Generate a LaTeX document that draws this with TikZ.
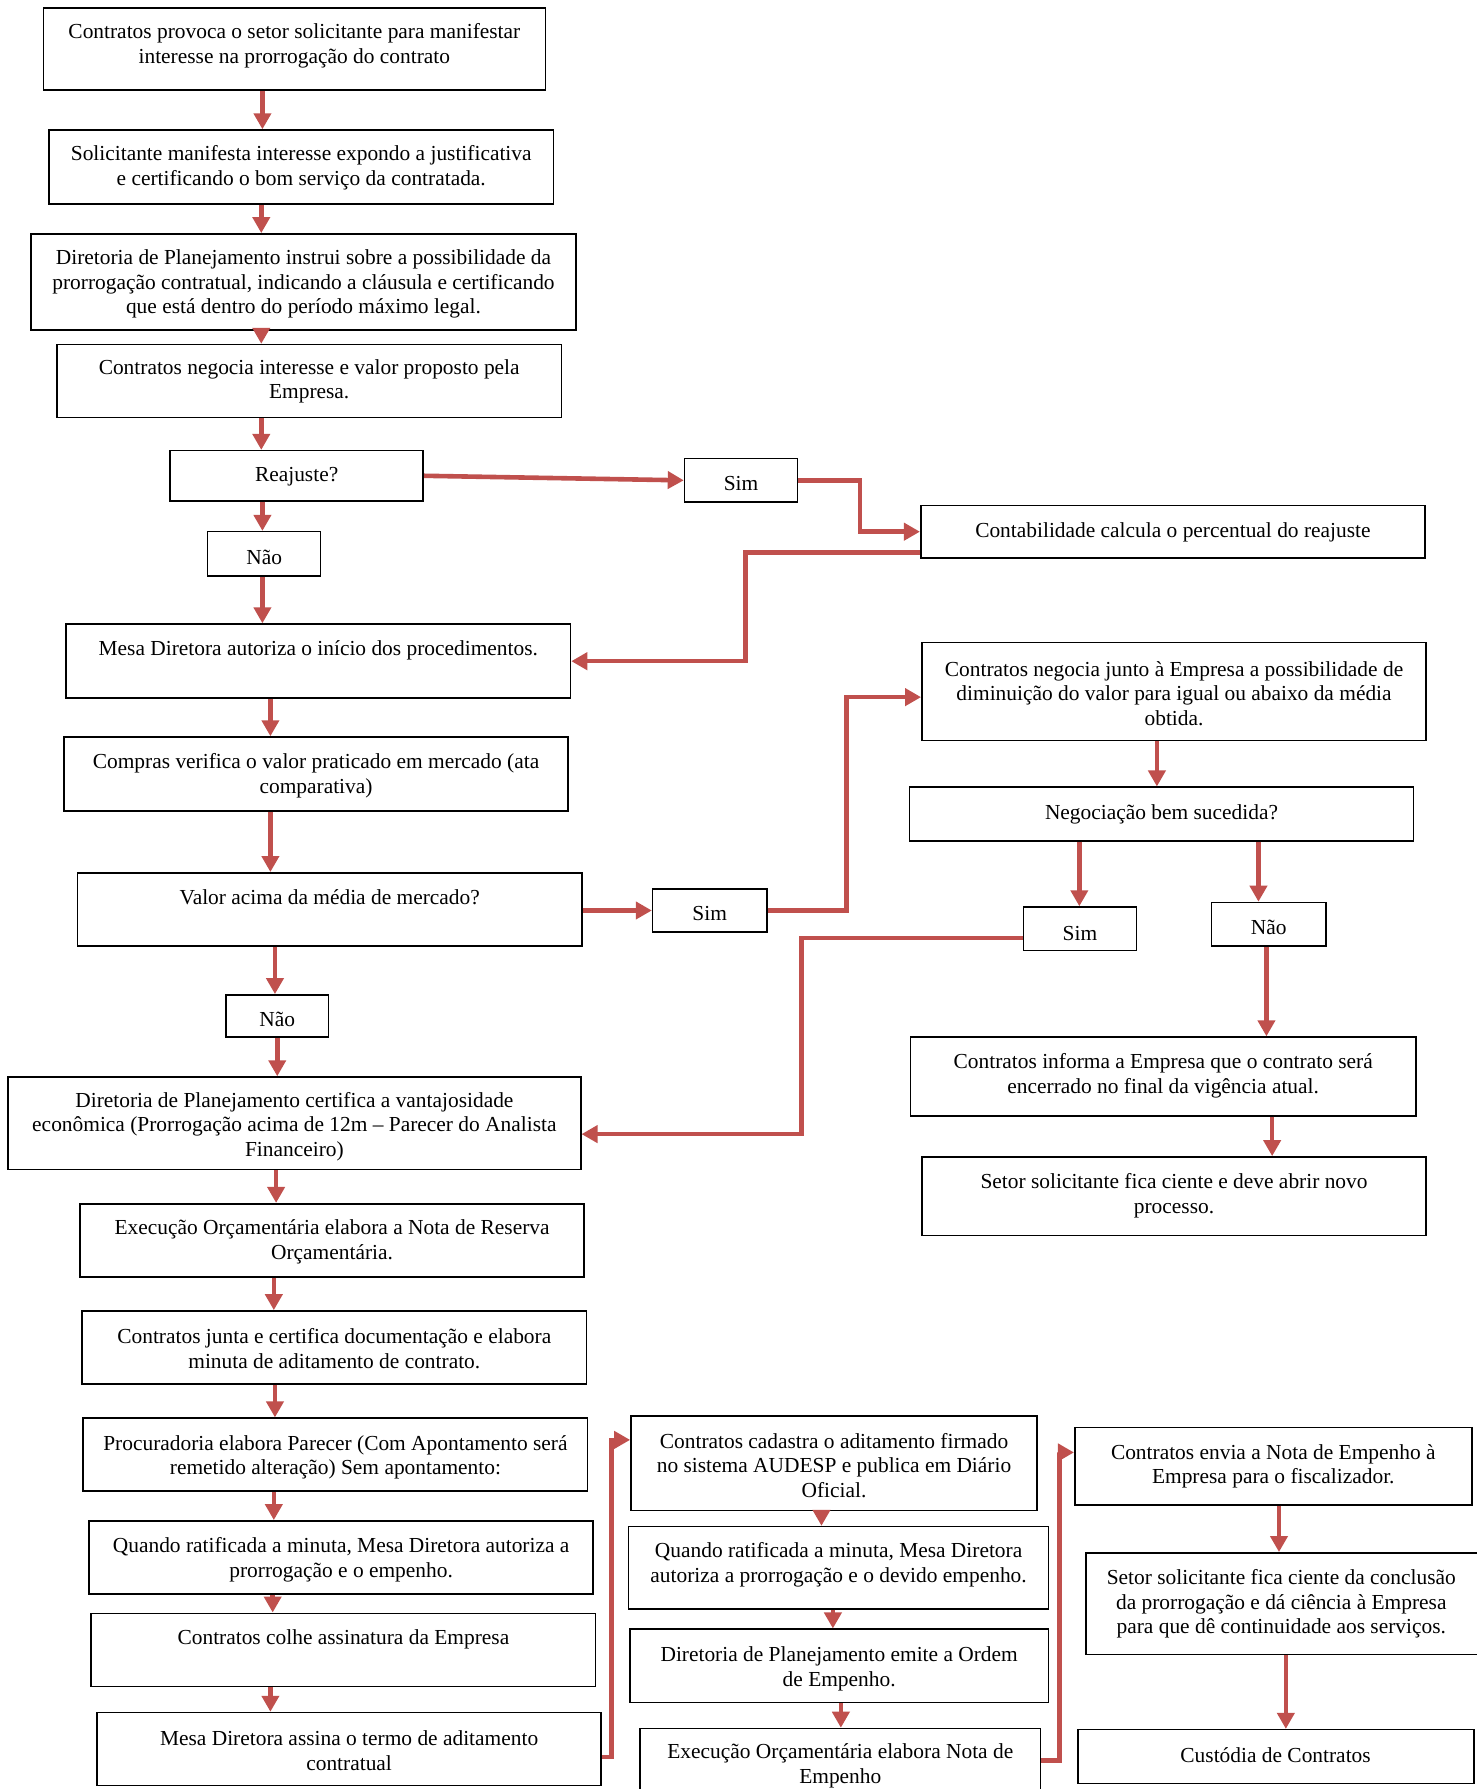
\documentclass[tikz,border=0pt]{standalone}
\usepackage{fontspec}
\setmainfont{Liberation Serif}
\usetikzlibrary{arrows.meta,fit}

\definecolor{arrowred}{RGB}{192,80,77}

\begin{document}
\begin{tikzpicture}[
    x=0.5703pt,
    y=-0.5703pt,
    block/.style={
        rectangle,
        draw,
        thick,
        inner sep=0pt
    },
    txt/.style={
        align=center,
        inner sep=0pt,
        yshift=-1pt,
        font=\fontsize{10.7}{12.3}\selectfont
    },
    line/.style={draw=arrowred, line width=2.3pt, -{Triangle[length=8pt,width=8.5pt]}}
]

\useasboundingbox (0,0) rectangle (1294,1568);
\fill[white] (0,0) rectangle (1294,1568);

% Left column
\node [block, fit={(38,7) (478,79)}] (provoca) {};
\node [txt] (provoca-t) at (258,38.5) {Contratos provoca o setor solicitante para manifestar\\interesse na prorrogação do contrato};

\node [block, fit={(43,114) (485,179)}] (manifesta) {};
\node [txt] (manifesta-t) at (264,145.5) {Solicitante manifesta interesse expondo a justificativa\\e certificando o bom serviço da contratada.};

\node [block, fit={(27,205) (505,289)}] (instrui) {};
\node [txt] (instrui-t) at (266,247.3) {Diretoria de Planejamento instrui sobre a possibilidade da\\prorrogação contratual, indicando a cláusula e certificando\\que está dentro do período máximo legal.};

\node [block, fit={(50,302) (492,366)}] (negocia) {};
\node [txt] (negocia-t) at (271,332.5) {Contratos negocia interesse e valor proposto pela\\Empresa.};

\node [block, fit={(149,395) (371,439)}] (reajuste) {};
\node [txt] (reajuste-t) at (260,416) {Reajuste?};

\node [block, fit={(182,466) (281,505)}] (naoreaj) {};
\node [txt] (naoreaj-t) at (231.5,487) {Não};

\node [block, fit={(58,547) (500,612)}] (autoriza) {};
\node [txt] (autoriza-t) at (279,568) {Mesa Diretora autoriza o início dos procedimentos.};

\node [block, fit={(56,646) (498,711)}] (compras) {};
\node [txt] (compras-t) at (277,678) {Compras verifica o valor praticado em mercado (ata\\comparativa)};

\node [block, fit={(68,765) (510,829)}] (acima) {};
\node [txt] (acima-t) at (289,785) {Valor acima da média de mercado?};

\node [block, fit={(198,872) (288,909)}] (naoacima) {};
\node [txt] (naoacima-t) at (243,892) {Não};

\node [block, fit={(7,944) (509,1025)}] (certifica) {};
\node [txt] (certifica-t) at (258,985.7) {Diretoria de Planejamento certifica a vantajosidade\\econômica (Prorrogação acima de 12m – Parecer do Analista\\Financeiro)};

\node [block, fit={(70,1055) (512,1119)}] (reserva) {};
\node [txt] (reserva-t) at (291,1086.5) {Execução Orçamentária elabora a Nota de Reserva\\Orçamentária.};

\node [block, fit={(72,1149) (514,1213)}] (junta) {};
\node [txt] (junta-t) at (293,1180.5) {Contratos junta e certifica documentação e elabora\\minuta de aditamento de contrato.};

\node [block, fit={(73,1243) (515,1307)}] (parecer) {};
\node [txt] (parecer-t) at (294,1275.5) {Procuradoria elabora Parecer (Com Apontamento será\\remetido alteração) Sem apontamento:};

\node [block, fit={(78,1333) (520,1397)}] (ratifica) {};
\node [txt] (ratifica-t) at (299,1365.5) {Quando ratificada a minuta, Mesa Diretora autoriza a\\prorrogação e o empenho.};

\node [block, fit={(80,1414) (522,1478)}] (colhe) {};
\node [txt] (colhe-t) at (301,1435) {Contratos colhe assinatura da Empresa};

\node [block, fit={(85,1501) (527,1565)}] (assina) {};
\node [txt] (assina-t) at (306,1532.5) {Mesa Diretora assina o termo de aditamento\\contratual};

% Middle column
\node [block, fit={(600,402) (699,440)}] (simreaj) {};
\node [txt] (simreaj-t) at (649.5,422) {Sim};

\node [block, fit={(572,779) (672,817)}] (simacima) {};
\node [txt] (simacima-t) at (622,799) {Sim};

\node [block, fit={(553,1241) (909,1324)}] (cadastra) {};
\node [txt] (cadastra-t) at (731,1282.7) {Contratos cadastra o aditamento firmado\\no sistema AUDESP e publica em Diário\\Oficial.};

\node [block, fit={(551,1338) (919,1410)}] (ratifica2) {};
\node [txt] (ratifica2-t) at (735,1369.5) {Quando ratificada a minuta, Mesa Diretora\\autoriza a prorrogação e o devido empenho.};

\node [block, fit={(552,1428) (919,1492)}] (ordem) {};
\node [txt] (ordem-t) at (735.5,1461) {Diretoria de Planejamento emite a Ordem\\de Empenho.};

\node [block, fit={(561,1515) (912,1580)}] (notaemp) {};
\node [txt] (notaemp-t) at (736.5,1546) {Execução Orçamentária elabora Nota de\\Empenho};

% Right column
\node [block, fit={(807,443) (1249,489)}] (contab) {};
\node [txt] (contab-t) at (1028,465) {Contabilidade calcula o percentual do reajuste};

\node [block, fit={(808,563) (1250,649)}] (negjunto) {};
\node [txt] (negjunto-t) at (1029,606) {Contratos negocia junto à Empresa a possibilidade de\\diminuição do valor para igual ou abaixo da média\\obtida.};

\node [block, fit={(797,690) (1239,737)}] (bemsuc) {};
\node [txt] (bemsuc-t) at (1018,712) {Negociação bem sucedida?};

\node [block, fit={(897,795) (996,833)}] (simneg) {};
\node [txt] (simneg-t) at (946.5,816) {Sim};

\node [block, fit={(1062,791) (1162,829)}] (naoneg) {};
\node [txt] (naoneg-t) at (1112,811) {Não};

\node [block, fit={(798,909) (1241,978)}] (informa) {};
\node [txt] (informa-t) at (1019.5,941) {Contratos informa a Empresa que o contrato será\\encerrado no final da vigência atual.};

\node [block, fit={(808,1014) (1250,1083)}] (novoproc) {};
\node [txt] (novoproc-t) at (1029,1046) {Setor solicitante fica ciente e deve abrir novo\\processo.};

\node [block, fit={(942,1251) (1290,1319)}] (envia) {};
\node [txt] (envia-t) at (1116,1283.5) {Contratos envia a Nota de Empenho à\\Empresa para o fiscalizador.};

\node [block, fit={(952,1361) (1298,1450)}] (ciente) {};
\node [txt] (ciente-t) at (1123,1404) {Setor solicitante fica ciente da conclusão\\da prorrogação e dá ciência à Empresa\\para que dê continuidade aos serviços.};

\node [block, fit={(945,1516) (1292,1563)}] (custodia) {};
\node [txt] (custodia-t) at (1118,1537) {Custódia de Contratos};

% Vertical connections, left column
\draw [line] (provoca.south -| 230,0) -- (manifesta.north -| 230,0);
\draw [line] (manifesta.south -| 229,0) -- (instrui.north -| 229,0);
\draw [line] (instrui.south -| 229,0) -- (negocia.north -| 229,0);
\draw [line] (negocia.south -| 229,0) -- (reajuste.north -| 229,0);
\draw [line] (reajuste.south -| 230,0) -- (naoreaj.north -| 230,0);
\draw [line] (naoreaj.south -| 230,0) -- (autoriza.north -| 230,0);
\draw [line] (autoriza.south -| 237,0) -- (compras.north -| 237,0);
\draw [line] (compras.south -| 237,0) -- (acima.north -| 237,0);
\draw [line] (acima.south -| 241,0) -- (naoacima.north -| 241,0);
\draw [line] (naoacima.south -| 243,0) -- (certifica.north -| 243,0);
\draw [line] (certifica.south -| 242,0) -- (reserva.north -| 242,0);
\draw [line] (reserva.south -| 240,0) -- (junta.north -| 240,0);
\draw [line] (junta.south -| 241,0) -- (parecer.north -| 241,0);
\draw [line] (parecer.south -| 240,0) -- (ratifica.north -| 240,0);
\draw [line] (ratifica.south -| 239,0) -- (colhe.north -| 239,0);
\draw [line] (colhe.south -| 237,0) -- (assina.north -| 237,0);

% Branches
\draw [line] (reajuste.east) -- (simreaj.west);
\draw [line] (simreaj.east) -- ++(54,0) |- (contab.west);
\draw [line] (contab.west |- 0,484) -- ++(-153,0) |- (autoriza.east);
\draw [line] (acima.east |- simacima.west) -- (simacima.west);
\draw [line] (simacima.east) -- ++(69,0) |- (negjunto.west |- 0,611);
\draw [line] (negjunto.south -| 1014,0) -- (bemsuc.north -| 1014,0);
\draw [line] (bemsuc.south -| 946,0) -- (simneg.north -| 946,0);
\draw [line] (bemsuc.south -| 1103,0) -- (naoneg.north -| 1103,0);
\draw [line] (simneg.west |- 0,822) -- ++(-194,0) |- (certifica.east |- 0,994);
\draw [line] (naoneg.south -| 1110,0) -- (informa.north -| 1110,0);
\draw [line] (informa.south -| 1115,0) -- (novoproc.north -| 1115,0);

% Bottom columns
\draw [line] (assina.east |- 0,1540) -- ++(8,0) |- (cadastra.west |- 0,1262);
\draw [line] (cadastra.south -| 720,0) -- (ratifica2.north -| 720,0);
\draw [line] (ratifica2.south -| 730,0) -- (ordem.north -| 730,0);
\draw [line] (ordem.south -| 737,0) -- (notaemp.north -| 737,0);
\draw [line] (notaemp.east |- 0,1543) -- ++(16,0) |- (envia.west |- 0,1273);
\draw [line] (envia.south -| 1121,0) -- (ciente.north -| 1121,0);
\draw [line] (ciente.south -| 1127,0) -- (custodia.north -| 1127,0);

\end{tikzpicture}
\end{document}
